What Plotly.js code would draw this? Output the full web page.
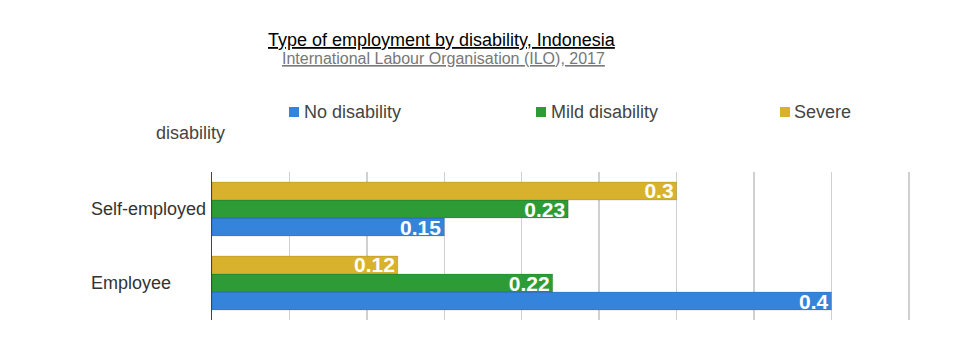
<!DOCTYPE html>
<html><head><meta charset="utf-8">
<script src="https://cdn.plot.ly/plotly-3.0.1.min.js"></script>
<style>html,body{margin:0;padding:0;background:#fff}#c{width:968px;height:352px}</style>
</head><body><div id="c"></div>
<script>
const categories = ['Employee', 'Self-employed'];
const seriesNames = ['No disability', 'Mild disability', 'Severe disability'];
const noDisability = [0.4, 0.15];
const mildDisability = [0.22, 0.23];
const severeDisability = [0.12, 0.3];
const legendLabels = ['No disability', 'Mild disability', 'Severe'];
const colors = ['#3584dc', '#2d9c37', '#d8b22c'];
const values = [noDisability, mildDisability, severeDisability];

const FONT = 'Liberation Sans, Arial, Helvetica, sans-serif';
const L = 212, T = 172, B = 320, W = 700;
const px = p => (p - L) / W;
const py = q => (B - q) / (B - T);

const traces = values.map((v, i) => ({
  type: 'bar', orientation: 'h', y: categories, x: v, name: seriesNames[i],
  marker: {color: colors[i], line: {color: 'rgba(0,0,0,0.12)', width: 1}},
  text: v.map(String), textposition: 'inside', insidetextanchor: 'end',
  textfont: {color: '#fff', size: 21, family: FONT, weight: 'bold'},
  textangle: 0, constraintext: 'none', cliponaxis: false, hoverinfo: 'x+name'
}));

const annotations = [
  {text: '<span style="text-decoration:underline">Type of employment by disability, Indonesia</span>',
   xref: 'paper', yref: 'paper', x: px(442), y: py(40), showarrow: false,
   font: {size: 18, color: '#000', family: FONT}, xanchor: 'center', yanchor: 'middle'},
  {text: '<span style="text-decoration:underline">International Labour Organisation (ILO), 2017</span>',
   xref: 'paper', yref: 'paper', x: px(443), y: py(59), showarrow: false,
   font: {size: 16, color: '#777', family: FONT}, xanchor: 'center', yanchor: 'middle'},
  {text: 'disability', xref: 'paper', yref: 'paper', x: px(154), y: py(133), showarrow: false,
   font: {size: 18, color: '#444', family: FONT}, xanchor: 'left', yanchor: 'middle'}
];
const squareX = [289, 536, 780];
const textX = [302, 549, 792];
const shapes = [];
legendLabels.forEach((t, i) => {
  annotations.push({
    text: t, xref: 'paper', yref: 'paper', x: px(textX[i]), y: py(112), showarrow: false,
    font: {size: 18, color: '#444', family: FONT}, xanchor: 'left', yanchor: 'middle'
  });
  shapes.push({type: 'rect', xref: 'paper', yref: 'paper', x0: px(squareX[i]), x1: px(squareX[i] + 10),
    y0: py(117), y1: py(107), fillcolor: colors[i], line: {width: 0}});
});
categories.forEach(c => {
  annotations.push({text: c, xref: 'paper', yref: 'y', x: px(89), y: c, showarrow: false,
    font: {size: 18, color: '#333', family: FONT}, xanchor: 'left', yanchor: 'middle'});
});

const layout = {
  width: 968, height: 352,
  margin: {l: L, r: 968 - L - W, t: T, b: 352 - B, pad: 0},
  paper_bgcolor: '#fff', plot_bgcolor: '#fff',
  barmode: 'group', bargap: 0.27, bargroupgap: 0,
  showlegend: false,
  font: {family: FONT, color: '#222'},
  xaxis: {range: [0, 0.452], dtick: 0.05, showticklabels: false, showgrid: true,
          gridcolor: '#d0d0d0', gridwidth: 1.5, zeroline: false, showline: false, fixedrange: true},
  yaxis: {showgrid: false, zeroline: false, showline: true, linecolor: '#444', linewidth: 1.5,
          ticks: '', showticklabels: false, fixedrange: true},
  annotations: annotations,
  shapes: shapes
};
Plotly.newPlot('c', traces, layout, {displayModeBar: false, staticPlot: true});
</script></body></html>
